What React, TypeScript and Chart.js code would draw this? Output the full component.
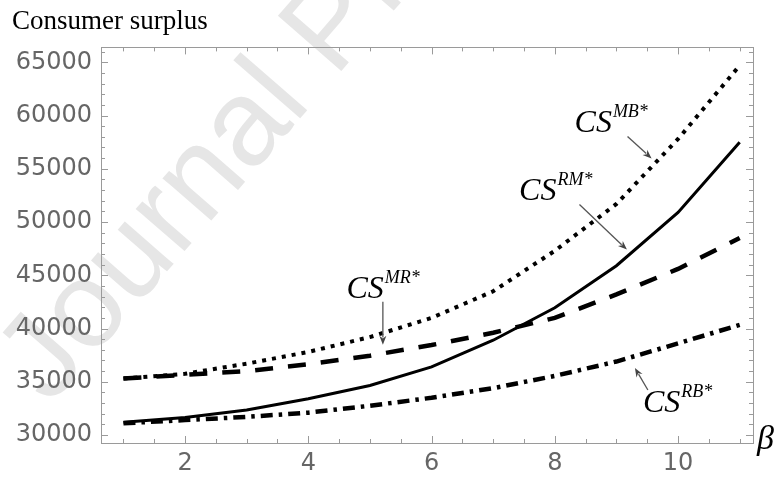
import React, { useEffect, useRef } from "react";
import { Chart, registerables } from "chart.js";

Chart.register(...registerables);

// ---- data ----
const beta = [1, 2, 3, 4, 5, 6, 7, 8, 9, 10, 11];
const csMB = [35300, 35750, 36700, 37800, 39200, 41000, 43500, 47300, 51700, 57800, 64700];
const csRM = [31200, 31650, 32350, 33400, 34650, 36400, 38900, 41950, 45900, 50900, 57500];
const csMR = [35300, 35650, 36000, 36650, 37450, 38450, 39600, 41000, 43200, 45600, 48500];
const csRB = [31100, 31400, 31700, 32100, 32750, 33500, 34400, 35550, 36900, 38600, 40350];

const xTickValues = [2, 4, 6, 8, 10];
const yTickValues = [30000, 35000, 40000, 45000, 50000, 55000, 60000, 65000];

const xRange = [0.636, 11.216];
const yRange = [29250, 66400];

const titleText = "Consumer surplus";
const axisLabelX = "β";
const watermarkText = "Journal Pre-proof";

// annotation labels, positioned in data units
const annotations = [
  { main: "CS", sup: "MB*", at: [8.32, 58410], from: [9.18, 58040], to: [9.57, 55970] },
  { main: "CS", sup: "RM*", at: [7.42, 52110], from: [8.4, 51640], to: [9.17, 47410] },
  { main: "CS", sup: "MR*", at: [4.62, 42890], from: [5.21, 42520], to: [5.21, 38470] },
  { main: "CS", sup: "RB*", at: [9.43, 32160], from: [9.51, 34230], to: [9.3, 36300] },
];

const pts = (ys: number[]) => beta.map((b, i) => ({ x: b, y: ys[i] }));

const FRAME = "#9a9a9a";
const LABEL = "#666666";

const drawArrow = (ctx: CanvasRenderingContext2D, x1: number, y1: number, x2: number, y2: number) => {
  const ang = Math.atan2(y2 - y1, x2 - x1);
  const head = 9;
  const hw = 3.5;
  ctx.save();
  ctx.strokeStyle = "#555";
  ctx.fillStyle = "#444";
  ctx.lineWidth = 1.3;
  ctx.beginPath();
  ctx.moveTo(x1, y1);
  ctx.lineTo(x2 - Math.cos(ang) * head * 0.8, y2 - Math.sin(ang) * head * 0.8);
  ctx.stroke();
  ctx.beginPath();
  ctx.moveTo(x2, y2);
  ctx.lineTo(x2 - Math.cos(ang) * head - Math.sin(ang) * hw, y2 - Math.sin(ang) * head + Math.cos(ang) * hw);
  ctx.lineTo(x2 - Math.cos(ang) * head * 0.7, y2 - Math.sin(ang) * head * 0.7);
  ctx.lineTo(x2 - Math.cos(ang) * head + Math.sin(ang) * hw, y2 - Math.sin(ang) * head - Math.cos(ang) * hw);
  ctx.closePath();
  ctx.fill();
  ctx.restore();
};

const watermarkPlugin = {
  id: "watermark",
  beforeDraw(chart: any) {
    const ctx = chart.ctx;
    ctx.save();
    ctx.translate(50, 406);
    ctx.rotate((-49 * Math.PI) / 180);
    ctx.font = "122px 'Liberation Sans'";
    ctx.fillStyle = "#e6e6e6";
    ctx.textBaseline = "alphabetic";
    ctx.textAlign = "left";
    ctx.fillText(watermarkText, 0, 0);
    ctx.restore();
  },
};

const framePlugin = {
  id: "frame",
  afterDraw(chart: any) {
    const ctx = chart.ctx;
    const { left, right, top, bottom } = chart.chartArea;
    const xs = chart.scales.x;
    const ys = chart.scales.y;
    ctx.save();
    ctx.strokeStyle = FRAME;
    ctx.lineWidth = 1;
    ctx.strokeRect(Math.round(left) + 0.5, Math.round(top) + 0.5, Math.round(right - left), Math.round(bottom - top));
    ctx.beginPath();
    // x ticks (major every 2, minor every 0.5), pointing inward on bottom and top
    for (let v = 0; v <= 12; v += 0.5) {
      if (v < xRange[0] || v > xRange[1]) continue;
      const major = xTickValues.includes(v);
      const len = major ? 7 : 4;
      const px = Math.round(xs.getPixelForValue(v)) + 0.5;
      ctx.moveTo(px, bottom);
      ctx.lineTo(px, bottom - len);
      ctx.moveTo(px, top);
      ctx.lineTo(px, top + len);
    }
    // y ticks (major every 5000, minor every 1000)
    for (let v = 29000; v <= 67000; v += 1000) {
      if (v < yRange[0] || v > yRange[1]) continue;
      const major = yTickValues.includes(v);
      const len = major ? 7 : 4;
      const py = Math.round(ys.getPixelForValue(v)) + 0.5;
      ctx.moveTo(left, py);
      ctx.lineTo(left + len, py);
      ctx.moveTo(right, py);
      ctx.lineTo(right - len, py);
    }
    ctx.stroke();

    // axis label beta
    ctx.fillStyle = "#000";
    ctx.font = "italic 34px 'Liberation Serif'";
    ctx.textAlign = "left";
    ctx.textBaseline = "alphabetic";
    ctx.fillText(axisLabelX, right + 4, bottom + 6);

    // annotations
    for (const a of annotations) {
      const lx = xs.getPixelForValue(a.at[0]);
      const ly = ys.getPixelForValue(a.at[1]);
      ctx.font = "italic 32px 'Liberation Serif'";
      ctx.fillText(a.main, lx, ly);
      const w = ctx.measureText(a.main).width;
      ctx.font = "italic 18px 'Liberation Serif'";
      ctx.fillText(a.sup, lx + w + 1, ly - 15);
      drawArrow(
        ctx,
        xs.getPixelForValue(a.from[0]),
        ys.getPixelForValue(a.from[1]),
        xs.getPixelForValue(a.to[0]),
        ys.getPixelForValue(a.to[1])
      );
    }
    ctx.restore();
  },
};

export default function App() {
  const ref = useRef<HTMLCanvasElement | null>(null);
  useEffect(() => {
    if (!ref.current) return;
    const common = { pointRadius: 0, borderColor: "#000", fill: false, tension: 0, borderCapStyle: "butt" as const };
    const chart = new Chart(ref.current, {
      type: "line",
      data: {
        datasets: [
          { ...common, label: "CS MB*", data: pts(csMB), borderWidth: 4, borderDash: [4, 6] },
          { ...common, label: "CS RM*", data: pts(csRM), borderWidth: 3 },
          { ...common, label: "CS MR*", data: pts(csMR), borderWidth: 4.5, borderDash: [18, 15] },
          { ...common, label: "CS RB*", data: pts(csRB), borderWidth: 4.5, borderDash: [12, 6, 3.5, 6] },
        ],
      },
      options: {
        responsive: false,
        animation: false,
        devicePixelRatio: 1,
        layout: { padding: { left: 12, right: 26, top: 0, bottom: 0 } },
        plugins: {
          legend: { display: false },
          tooltip: { enabled: false },
          title: {
            display: true,
            text: titleText,
            align: "start",
            color: "#000",
            font: { family: "'Liberation Serif'", size: 27, weight: "normal" },
            padding: { top: 6, bottom: 9 },
          },
        },
        scales: {
          x: {
            type: "linear",
            min: xRange[0],
            max: xRange[1],
            grid: { display: false, drawTicks: false },
            border: { display: false },
            afterBuildTicks: (s: any) => {
              s.ticks = xTickValues.map((v) => ({ value: v }));
            },
            afterFit: (s: any) => {
              s.height = 34;
            },
            ticks: {
              color: LABEL,
              padding: 6,
              maxRotation: 0,
              font: { family: "'DejaVu Sans'", size: 24 },
              callback: (v: any) => String(v),
            },
          },
          y: {
            type: "linear",
            min: yRange[0],
            max: yRange[1],
            grid: { display: false, drawTicks: false },
            border: { display: false },
            afterBuildTicks: (s: any) => {
              s.ticks = yTickValues.map((v) => ({ value: v }));
            },
            afterFit: (s: any) => {
              s.width = 89;
            },
            ticks: {
              color: LABEL,
              padding: 9,
              font: { family: "'DejaVu Sans'", size: 24 },
              callback: (v: any) => String(v),
            },
          },
        },
      },
      plugins: [watermarkPlugin, framePlugin],
    });
    return () => chart.destroy();
  }, []);
  return (
    <div style={{ position: "absolute", left: 0, top: 0, width: 779, height: 477, background: "#fff" }}>
      <canvas ref={ref} width={779} height={477} />
    </div>
  );
}
